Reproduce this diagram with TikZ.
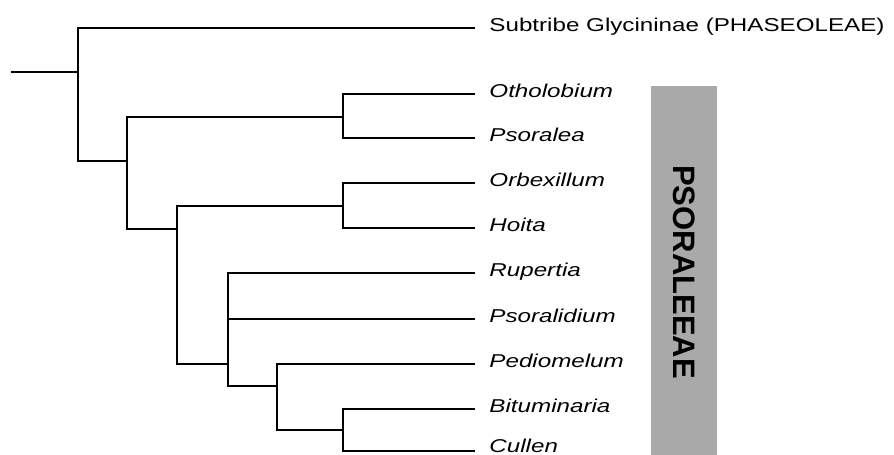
\documentclass[tikz,border=0pt]{standalone}
\usepackage{fontspec}
\setmainfont{Liberation Sans}
\usetikzlibrary{positioning}
\definecolor{barGray}{RGB}{169,169,169}
\newcommand{\taxon}[1]{\scalebox{1.3}[1]{#1}}

\begin{document}
\begin{tikzpicture}[x=1pt, y=-1pt, line width=2.9pt,
  taxon/.style={inner sep=0pt, text height=10pt, text depth=3pt, font=\fontsize{18.6}{20}\selectfont},
  genus/.style={taxon, font=\fontsize{18.6}{20}\selectfont\itshape}]
\useasboundingbox (0,0) rectangle (894,455);

% inner nodes of the tree
\coordinate (root) at (11,72);
\coordinate (n0) at (78,72);
\coordinate (n1) at (127,161);
\coordinate (nA) at (343,117);
\coordinate (n2) at (177,229);
\coordinate (nB) at (343,206);
\coordinate (n3) at (228,364);
\coordinate (n4) at (277,386);
\coordinate (nC) at (343,430);

% tips
\coordinate (lSub) at (475,28);
\coordinate (lOth) at (475,94);
\coordinate (lPso) at (475,138);
\coordinate (lOrb) at (475,183);
\coordinate (lHoi) at (475,228);
\coordinate (lRup) at (475,273);
\coordinate (lPsd) at (475,319);
\coordinate (lPed) at (475,364);
\coordinate (lBit) at (475,409);
\coordinate (lCul) at (475,451);

\node[taxon, right=13pt of lSub] (sub) {\taxon{Subtribe Glycininae (PHASEOLEAE)}};
\node[genus, right=13pt of lOth] (oth) {\taxon{Otholobium}};
\node[genus, right=13pt of lPso] (pso) {\taxon{Psoralea}};
\node[genus, right=13pt of lOrb] (orb) {\taxon{Orbexillum}};
\node[genus, right=13pt of lHoi] (hoi) {\taxon{Hoita}};
\node[genus, right=13pt of lRup] (rup) {\taxon{Rupertia}};
\node[genus, right=13pt of lPsd] (psd) {\taxon{Psoralidium}};
\node[genus, right=13pt of lPed] (ped) {\taxon{Pediomelum}};
\node[genus, right=13pt of lBit] (bit) {\taxon{Bituminaria}};
\node[genus, right=13pt of lCul, yshift=2pt] (cul) {\taxon{Cullen}};

\node[fill=barGray, rotate=-90, minimum width=372pt, minimum height=66pt,
  font=\fontsize{31}{33}\selectfont\bfseries] (tribe) at (684,272) {PSORALEEAE};

\draw (root) -- (n0);
\draw (n0) |- (lSub);
\draw (n0) |- (n1);
\draw (n1) |- (nA);
\draw (n1) |- (n2);
\draw (nA) |- (lOth);
\draw (nA) |- (lPso);
\draw (n2) |- (nB);
\draw (n2) |- (n3);
\draw (nB) |- (lOrb);
\draw (nB) |- (lHoi);
\draw (n3) |- (lRup);
\draw (n3) |- (lPsd);
\draw (n3) |- (n4);
\draw (n4) |- (lPed);
\draw (n4) |- (nC);
\draw (nC) |- (lBit);
\draw (nC) |- (lCul);
\end{tikzpicture}
\end{document}
